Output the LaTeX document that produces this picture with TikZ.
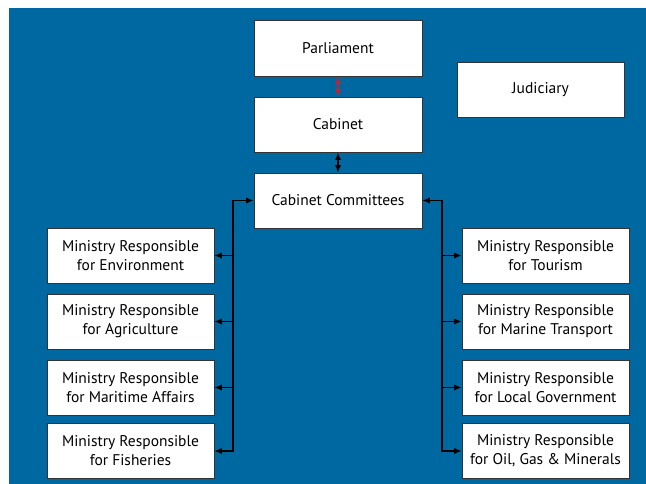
\documentclass[tikz,border=0pt]{standalone}
\usepackage{fontspec}
\setmainfont{PT Sans}
\usetikzlibrary{arrows.meta}
\definecolor{bg}{RGB}{0,104,160}
\definecolor{arrred}{RGB}{200,32,45}
\begin{document}
\begin{tikzpicture}[x=1pt,y=-1pt,
  box/.style={draw=black!80, line width=0.8pt, fill=white, minimum width=167pt, minimum height=55pt,
    align=center, font=\fontsize{15.5}{19}\selectfont, inner sep=0pt, text=black},
  link/.style={line width=1.8pt, draw=black, -{Latex[length=7.5pt,width=6.5pt]}},
  both/.style={line width=1.8pt, {Latex[length=7.5pt,width=6.5pt]}-{Latex[length=7.5pt,width=6.5pt]}},
]
\useasboundingbox (0,0) rectangle (646,484);
\fill[bg] (9,8) rectangle (646,484);

\node[box, minimum width=168pt, minimum height=56pt] (parl) at (338,48) {Parliament};
\node[box] (jud) at (540.5,89.5) {Judiciary};
\node[box, minimum width=168pt] (cab) at (338,124.5) {Cabinet};
\node[box, minimum width=168pt] (cc) at (338,200.5) {Cabinet Committees};

\node[box] (env) at (130.5,255.5) {Ministry Responsible\\for Environment};
\node[box] (agr) at (130.5,321.5) {Ministry Responsible\\for Agriculture};
\node[box] (mar) at (130.5,387.5) {Ministry Responsible\\for Maritime Affairs};
\node[box] (fis) at (130.5,451) {Ministry Responsible\\for Fisheries};

\node[box] (tou) at (545.5,255.5) {Ministry Responsible\\for Tourism};
\node[box] (mtr) at (545.5,321.5) {Ministry Responsible\\for Marine Transport};
\node[box] (loc) at (545.5,387.5) {Ministry Responsible\\for Local Government};
\node[box] (oil) at (545.5,451) {Ministry Responsible\\for Oil, Gas \& Minerals};

\draw[both, draw=arrred, line width=1.5pt] (parl.south) -- (cab.north);
\draw[both] (cab.south) -- (cc.north);

\coordinate (lx) at (233,0);
\coordinate (rx) at (442,0);
\coordinate (lt) at (cc.west -| lx);
\coordinate (lb) at (fis.east -| lx);
\coordinate (rt) at (cc.east -| rx);
\coordinate (rb) at (oil.west -| rx);

\draw[both] (cc.west) -- (lt) -- (lb) -- (fis.east);
\draw[link] (env.east -| lx) -- (env.east);
\draw[link] (agr.east -| lx) -- (agr.east);
\draw[link] (mar.east -| lx) -- (mar.east);

\draw[both] (cc.east) -- (rt) -- (rb) -- (oil.west);
\draw[link] (tou.west -| rx) -- (tou.west);
\draw[link] (mtr.west -| rx) -- (mtr.west);
\draw[link] (loc.west -| rx) -- (loc.west);
\end{tikzpicture}
\end{document}
